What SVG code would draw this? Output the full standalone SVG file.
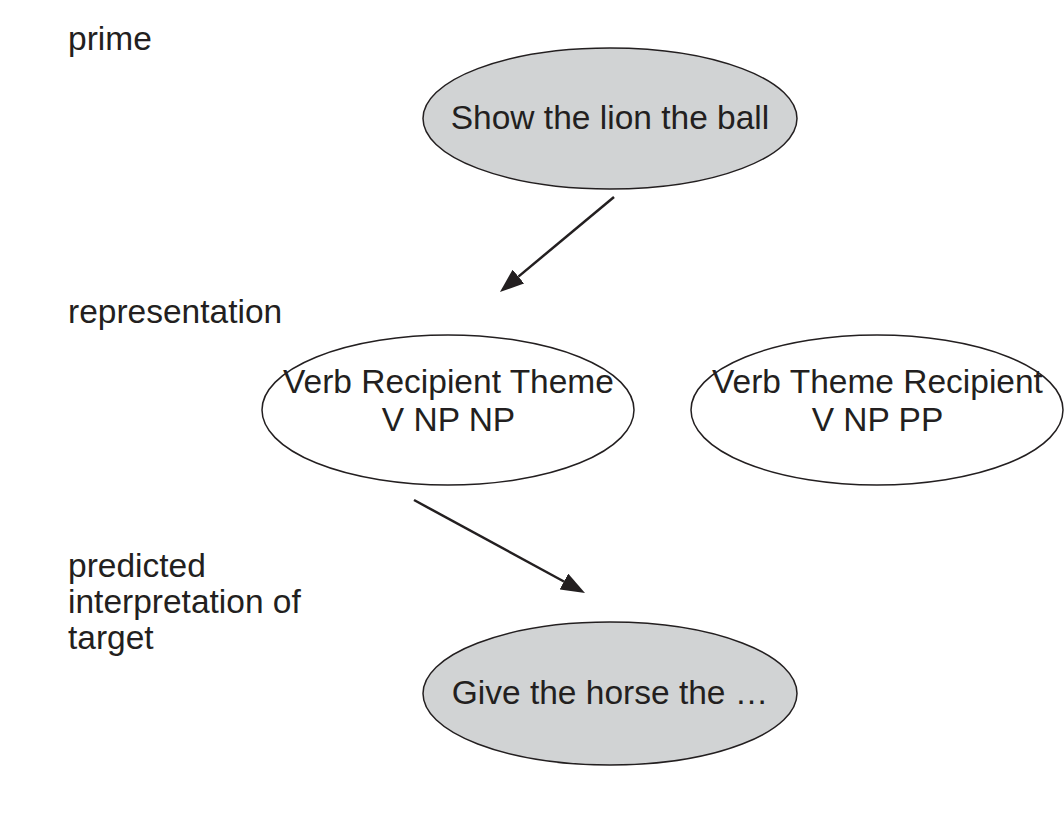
<svg xmlns="http://www.w3.org/2000/svg" width="1064" height="823" viewBox="0 0 1064 823">
<style>
  text { font-family: "Liberation Sans", Arial, sans-serif; font-size: 33.5px; fill: #231f20; }
  .c { text-anchor: middle; }
  .shaded { fill: #d1d3d4; stroke: #231f20; stroke-width: 1.5; }
  .plain { fill: #ffffff; stroke: #231f20; stroke-width: 1.5; }
  .arrow { stroke: #231f20; stroke-width: 2.5; fill: none; marker-end: url(#head); }
</style>
<defs>
  <marker id="head" viewBox="0 0 24 18" refX="0" refY="9" markerWidth="24" markerHeight="18" markerUnits="userSpaceOnUse" orient="auto">
    <path d="M0,0 L24,9 L0,18 z" fill="#231f20"/>
  </marker>
</defs>
<rect width="1064" height="823" fill="#ffffff"/>
<g id="labels">
  <text x="68" y="50">prime</text>
  <text x="68" y="323">representation</text>
  <text x="68" y="577">predicted</text>
  <text x="68" y="613">interpretation of</text>
  <text x="68" y="649">target</text>
</g>
<g id="node-prime">
  <ellipse class="shaded" cx="610" cy="118.5" rx="187" ry="70.5"/>
  <text class="c" x="610" y="129">Show the lion the ball</text>
</g>
<g id="node-rep-double-object">
  <ellipse class="plain" cx="448" cy="410" rx="186" ry="75"/>
  <text class="c" x="448.5" y="393">Verb Recipient Theme</text>
  <text class="c" x="448.5" y="431">V NP NP</text>
</g>
<g id="node-rep-prepositional">
  <ellipse class="plain" cx="877" cy="410" rx="186" ry="75"/>
  <text class="c" x="877.5" y="393">Verb Theme Recipient</text>
  <text class="c" x="877.5" y="431">V NP PP</text>
</g>
<g id="node-target">
  <ellipse class="shaded" cx="610" cy="693.5" rx="187" ry="71.5"/>
  <text class="c" x="610" y="704">Give the horse the …</text>
</g>
<g id="connectors">
  <line class="arrow" x1="614" y1="197" x2="518.4" y2="276.6"/>
  <line class="arrow" x1="414" y1="500" x2="563.9" y2="581.5"/>
</g>
</svg>
